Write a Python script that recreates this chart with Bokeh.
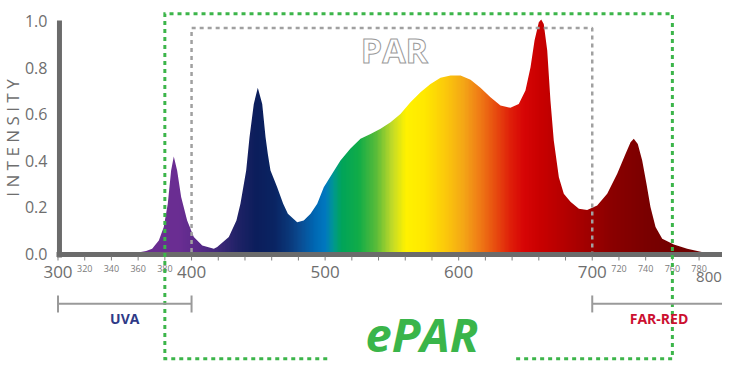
import numpy as np
from bokeh.plotting import figure
from bokeh.models import Range1d
from bokeh.core.properties import value
from bokeh.embed import file_html
from bokeh.resources import INLINE

# ---------------- data ----------------
wavelength = [362, 366, 370.5, 375.5, 379.2, 382.2, 384.7, 386.7, 389.2, 392.2, 396.7, 401.7,
              408, 416.7, 419.2, 427.9, 433.6, 436.6, 440.9, 443.4, 446.6, 449.6, 452.9,
              455.4, 457.1, 459.1, 462.1, 464.1, 468.6, 472.1, 479.1, 484, 489.1, 494.1,
              499, 504, 511.5, 519, 526.5, 534, 541.5, 549, 556.4, 563.9, 571.4, 578.9,
              586.4, 593.9, 601.4, 608.9, 616.3, 623.8, 631.3, 638.7, 645, 650, 653.8,
              656.8, 660, 661.8, 663.7, 666.3, 668.7, 671.2, 675, 678.7, 683.7, 690,
              696.2, 703.7, 711.2, 718.7, 724.9, 728.7, 731.1, 734.1, 737.4, 740.6,
              743.6, 747.4, 752.4, 761.1, 771.1, 782]
intensity = [0.0, 0.004, 0.014, 0.049, 0.107, 0.207, 0.35, 0.411, 0.35, 0.236, 0.135, 0.064,
             0.028, 0.014, 0.021, 0.064, 0.135, 0.207, 0.351, 0.494, 0.637, 0.706, 0.637,
             0.494, 0.422, 0.351, 0.308, 0.279, 0.207, 0.164, 0.128, 0.135, 0.164, 0.207,
             0.279, 0.325, 0.394, 0.445, 0.487, 0.508, 0.53, 0.558, 0.594, 0.644, 0.687, 0.723,
             0.749, 0.759, 0.759, 0.741, 0.706, 0.666, 0.63, 0.62, 0.637, 0.695, 0.795,
             0.91, 0.988, 1.0, 0.981, 0.867, 0.652, 0.48, 0.322, 0.25, 0.216, 0.186,
             0.181, 0.2, 0.25, 0.336, 0.422, 0.472, 0.487, 0.465, 0.394, 0.293,
             0.193, 0.107, 0.057, 0.032, 0.014, 0.0]

y_ticks = [0.0, 0.2, 0.4, 0.6, 0.8, 1.0]
y_tick_labels = ["0.0", "0.2", "0.4", "0.6", "0.8", "1.0"]
x_major = [300, 400, 500, 600, 700]
x_major_labels = ["300", "400", "500", "600", "700"]
x_last = [800]
x_last_label = ["800"]
x_minor = [320, 340, 360, 380, 720, 740, 760, 780]
x_minor_labels = ["320", "340", "360", "380", "720", "740", "760", "780"]
x_ticks = list(range(300, 801, 20))

par_band = [400, 700]
epar_band = [380, 760]
uva_band = [300, 400]
farred_band = [700, 800]

# colour stops of the spectrum gradient (style)
stop_wl = [360, 390, 405, 420, 435, 448, 462, 472, 482, 492, 500, 506, 512, 525, 538,
           550, 560, 575, 590, 603, 615, 627, 638, 648, 662, 690, 715, 740, 790]
stop_col = ["#6a2d90", "#6b2e93", "#5a2a8a", "#40287a", "#1f2266", "#0c1e5c", "#0a2563",
            "#0a3678", "#0a4f96", "#0068b4", "#0078c0", "#009890", "#00a45a", "#12ad48",
            "#5abc3a", "#c2db28", "#fff200", "#ffe800", "#fcc80c", "#f5a716", "#f07c16",
            "#e84c10", "#e0200a", "#d80606", "#c80000", "#a80000", "#8a0000", "#7a0000",
            "#6a0000"]

# ---------------- figure ----------------
# scale: 1.3356 px per nm, 232.5 px per intensity unit
p = figure(width=722, height=368,
           x_range=Range1d(256.95, 797.53), y_range=Range1d(-0.5011, 1.0817),
           x_axis_type=None, y_axis_type=None,
           output_backend="svg", toolbar_location=None, min_border=0)
p.outline_line_color = None
p.background_fill_color = "white"
p.border_fill_color = "white"

# gradient image
img_x0, img_x1 = 360, 789
cols_wl = np.arange(img_x0, img_x1) + 0.5
rgb = np.array([[int(c[i:i + 2], 16) for i in (1, 3, 5)] for c in stop_col], dtype=float)
img = np.empty((1, len(cols_wl)), dtype=np.uint32)
view = img.view(dtype=np.uint8).reshape((1, len(cols_wl), 4))
for ch in range(3):
    view[0, :, ch] = np.interp(cols_wl, stop_wl, rgb[:, ch]).astype(np.uint8)
view[0, :, 3] = 255
p.image_rgba(image=[img], x=img_x0, y=0, dw=img_x1 - img_x0, dh=1.012)

# white mask above the spectrum curve
mask_x = [img_x0 - 3, img_x0 - 3] + wavelength + [img_x1 + 1, img_x1 + 1]
mask_y = [1.03, 0.0] + intensity + [0.0, 1.03]
p.patch(mask_x, mask_y, fill_color="white", line_color=None)

# axes bars
axis_col = "#6b6b6b"
p.segment(x0=[301.1], y0=[0.9957], x1=[301.1], y1=[-0.0237], line_color=axis_col, line_width=5)
p.segment(x0=[298.9], y0=[-0.0108], x1=[801], y1=[-0.0108], line_color=axis_col, line_width=5)

# tick marks
p.segment(x0=x_ticks, y0=[-0.0194] * len(x_ticks), x1=x_ticks, y1=[-0.0366] * len(x_ticks),
          line_color="#808080", line_width=1)

# y tick labels
p.text(x=[292.1] * len(y_ticks), y=y_ticks, text=y_tick_labels,
       text_align="right", text_baseline="middle", y_offset=2,
       text_font=value("Open Sans"), text_font_size="16px", text_color="#6e6e6e")

# x tick labels
p.text(x=x_major, y=[-0.086] * len(x_major), text=x_major_labels,
       text_align="center", text_baseline="middle",
       text_font=value("Open Sans"), text_font_size="17px", text_color="#6e6e6e")
p.text(x=x_last, y=[-0.086], text=x_last_label, x_offset=-4, y_offset=5,
       text_align="right", text_baseline="middle",
       text_font=value("Open Sans"), text_font_size="15px", text_color="#6e6e6e")
p.text(x=x_minor, y=[-0.071] * len(x_minor), text=x_minor_labels,
       text_align="center", text_baseline="middle",
       text_font=value("Open Sans"), text_font_size="9px", text_color="#7a7a7a")

# axis title
p.text(x=[265.9], y=[0.49], text=["I N T E N S I T Y"], angle=np.pi / 2,
       text_align="center", text_baseline="middle",
       text_font=value("Open Sans"), text_font_size="17px", text_color="#6e6e6e")

# PAR box (grey dashed)
par_top = 0.963
p.line(x=[par_band[0], par_band[0], par_band[1], par_band[1]], y=[0.0, par_top, par_top, 0.0],
       line_color="#a0a0a0", line_width=2.5, line_dash="4 4")
p.text(x=[551.9], y=[0.8667], text=["PAR"], text_align="center", text_baseline="middle",
       text_font=value("Open Sans"), text_font_size="34px", text_font_style="bold",
       text_color="white", text_outline_color="#9a9a9a")

# ePAR box (green dashed)
yt, yb = 1.0245, -0.459
p.line(x=[501.6, epar_band[0], epar_band[0], epar_band[1], epar_band[1], 642.5],
       y=[yb, yb, yt, yt, yb, yb],
       line_color="#3cb54a", line_width=3, line_dash="4 4", line_join="miter")
p.text(x=[572.5], y=[-0.3548], text=["ePAR"], text_align="center", text_baseline="middle",
       text_font=value("Open Sans"), text_font_size="47px", text_font_style="bold italic",
       text_color="#3ab54a")

# brackets
br_y, br_t, br_b = -0.2228, -0.187, -0.260
for band in (uva_band, farred_band):
    p.segment(x0=[band[0], band[0], band[1]], y0=[br_y, br_t, br_t],
              x1=[band[1], band[0], band[1]], y1=[br_y, br_b, br_b],
              line_color="#9a9a9a", line_width=2)
p.text(x=[sum(uva_band) / 2], y=[-0.288], text=["UVA"], text_align="center", text_baseline="middle",
       text_font=value("Open Sans"), text_font_size="14px", text_font_style="bold",
       text_color="#2e3a87")
p.text(x=[sum(farred_band) / 2], y=[-0.288], text=["FAR-RED"], text_align="center",
       text_baseline="middle", text_font=value("Open Sans"), text_font_size="14px",
       text_font_style="bold", text_color="#cc1030")

open("out.html", "w").write(file_html(p, INLINE))
